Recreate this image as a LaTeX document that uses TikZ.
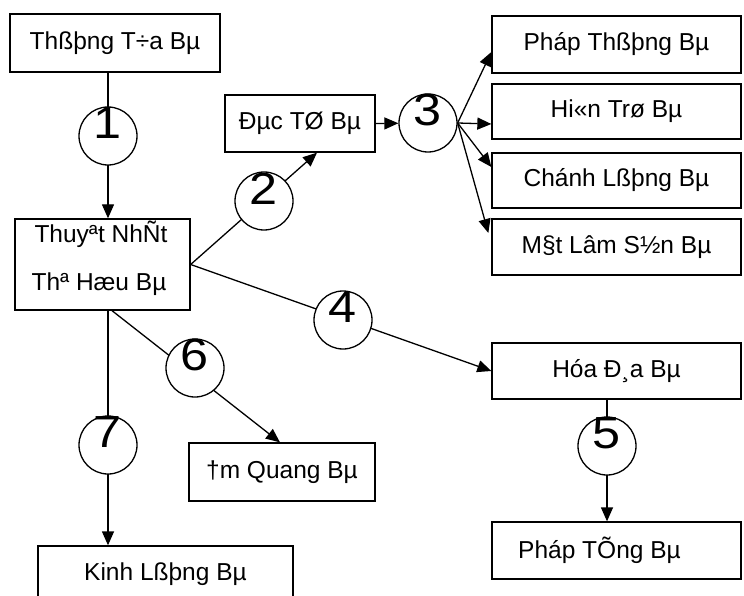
\documentclass[tikz,border=0pt]{standalone}
\usepackage{fontspec}
\setmainfont{Liberation Sans}
\newfontfamily\digitfont[FakeStretch=1.12]{Liberation Sans}
\usetikzlibrary{arrows.meta,calc}
\begin{document}
\begin{tikzpicture}[x=1pt,y=-1pt,
  box/.style={draw,line width=1.3pt,rectangle,inner sep=0pt,font=\fontsize{24.5}{28}\selectfont},
  txt/.style={inner sep=0pt,font=\fontsize{24.5}{28}\selectfont},
  numcirc/.style={draw,circle,line width=1.3pt,fill=white,minimum size=58pt,inner sep=0pt},
  digit/.style={inner sep=0pt,font=\digitfont\fontsize{45}{45}\selectfont},
  arr/.style={line width=1.3pt,-{Triangle[length=14pt,width=12pt]}}]
\useasboundingbox (0,0) rectangle (744,596);
% boxes
\node[box,minimum width=210pt,minimum height=58pt] (A) at (115,43) {Thßþng T÷a Bµ};
\node[box,minimum width=175pt,minimum height=91pt] (B) at (102.5,264.5) {};
\node[txt] (B1) at (101,234) {Thuyªt NhÑt};
\node[txt] (B2) at (99,284) {Thª Hæu Bµ};
\node[box,minimum width=150pt,minimum height=57pt] (C) at (300,123.5) {Ðµc TØ Bµ};
\node[box,minimum width=249pt,minimum height=57pt] (P1) at (616.5,44.5) {Pháp Thßþng Bµ};
\node[box,minimum width=249pt,minimum height=55pt] (P2) at (616.5,111.5) {Hi«n Trø Bµ};
\node[box,minimum width=249pt,minimum height=55pt] (P3) at (616.5,180.5) {Chánh Lßþng Bµ};
\node[box,minimum width=249pt,minimum height=56pt] (P4) at (616.5,247) {M§t Lâm S½n Bµ};
\node[box,minimum width=249pt,minimum height=56pt] (H) at (616.5,371) {Hóa Ð¸a Bµ};
\node[box,minimum width=249pt,minimum height=57pt] (T) at (616.5,550.5) {\hspace*{-34pt}Pháp TÕng Bµ};
\node[box,minimum width=186pt,minimum height=58pt] (M) at (282,472) {†m Quang Bµ};
\node[box,minimum width=255pt,minimum height=57pt] (K) at (165.5,574.5) {Kinh Lßþng Bµ};
% circle positions
\coordinate (p1) at (108,136);
\coordinate (p2) at (264,201);
\coordinate (p3) at (428,123);
\coordinate (p4) at (343,320);
\coordinate (p5) at (607,446);
\coordinate (p6) at (195,368);
\coordinate (p7) at (108,445);
% connectors
\draw[arr] (A.south -| p1) -- (B.north -| p1);
\draw[arr] (B.east) -- ($(C.south)+(17,0)$);
\draw[arr] (B.east) -- (H.west);
\draw[arr] (B.south -| p7) -- (K.north -| p7);
\draw[arr] ($(B.south -| p7)+(4,0)$) -- ($(M.north)+(-2,0)$);
\draw[arr] (H.south -| p5) -- (T.north -| p5);
% circles
\foreach \i in {1,...,7} {
  \node[numcirc] (c\i) at (p\i) {};
  \node[digit] (d\i) at ($(p\i)+(0,-12.5)$) {\i};
}
\draw[arr] (C.east) -- (c3);
\draw[arr] (c3.east) -- ([yshift=-7.5pt]P1.west);
\draw[arr] (c3.east) -- ([yshift=-12.5pt]P2.west);
\draw[arr] (c3.east) -- ([yshift=13.5pt]P3.west);
\draw[arr] (c3.east) -- ([yshift=14pt,xshift=-3pt]P4.west);
\end{tikzpicture}
\end{document}
